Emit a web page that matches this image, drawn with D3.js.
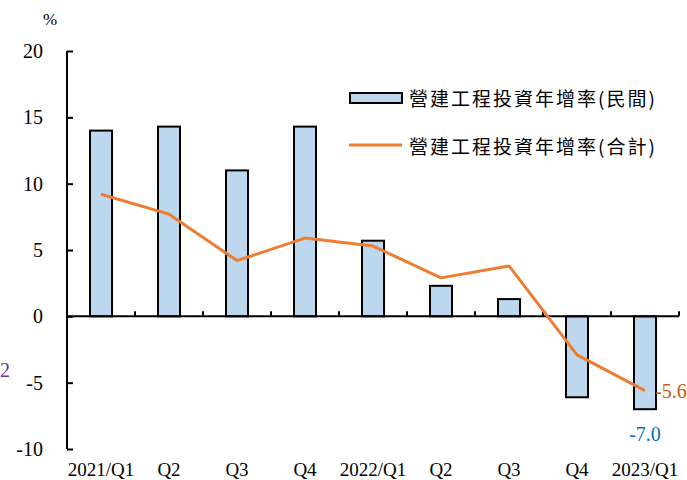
<!DOCTYPE html>
<html><head><meta charset="utf-8">
<script src="https://cdn.jsdelivr.net/npm/d3@7"></script>
<style>
body{margin:0;background:#fff;}
svg{display:block;}
</style></head>
<body>
<svg id="chart" width="687" height="480"></svg>
<script>
const categories = ["2021/Q1","Q2","Q3","Q4","2022/Q1","Q2","Q3","Q4","2023/Q1"];
const privateGrowth = [14.0, 14.3, 11.0, 14.3, 5.7, 2.3, 1.3, -6.1, -7.0];
const totalGrowth = [9.2, 7.7, 4.2, 5.9, 5.3, 2.9, 3.8, -2.9, -5.6];
const yTicks = [20, 15, 10, 5, 0, -5, -10];
const seriesNames = ["營建工程投資年增率(民間)", "營建工程投資年增率(合計)"];

const svg = d3.select("#chart");
const serif = "'Liberation Serif','Times New Roman',serif";
const cjk = "'Noto Sans CJK TC','Noto Sans CJK SC',sans-serif";

const x0 = 67, x1 = 679;
const y = d3.scaleLinear().domain([-10, 20]).range([449, 51]);
const x = d3.scaleBand().domain(d3.range(categories.length)).range([x0, x1]);
const cx = i => x(i) + x.bandwidth() / 2;
const barW = 22;

// bars
svg.append("g").selectAll("rect").data(privateGrowth).join("rect")
  .attr("x", (d, i) => cx(i) - barW / 2)
  .attr("y", d => y(Math.max(0, d)))
  .attr("width", barW)
  .attr("height", d => Math.abs(y(d) - y(0)))
  .attr("fill", "#BDD7EE")
  .attr("stroke", "#000")
  .attr("stroke-width", 2);

// y axis
const yAxis = d3.axisRight(y).tickValues(yTicks).tickSize(6).tickFormat("");
const ga = svg.append("g").attr("transform", `translate(${x0},0)`).call(yAxis);
ga.select(".domain").remove();
ga.selectAll("line").attr("stroke", "#000").attr("stroke-width", 2);
svg.append("line").attr("x1", x0).attr("x2", x0).attr("y1", y(20)).attr("y2", y(-10))
  .attr("stroke", "#000").attr("stroke-width", 2);

svg.append("g").selectAll("text").data(yTicks).join("text")
  .attr("x", 43).attr("y", d => y(d)).attr("dy", "0.35em")
  .attr("text-anchor", "end")
  .attr("font-family", serif).attr("font-size", 20).attr("fill", "#000")
  .text(d => d);

// x axis (zero line)
svg.append("line").attr("x1", x0).attr("x2", x1).attr("y1", y(0)).attr("y2", y(0))
  .attr("stroke", "#000").attr("stroke-width", 2);
const bounds = d3.range(1, categories.length + 1).map(i => x0 + i * x.step());
svg.append("g").selectAll("line").data(bounds).join("line")
  .attr("x1", d => d).attr("x2", d => d)
  .attr("y1", y(0)).attr("y2", y(0) - 5)
  .attr("stroke", "#000").attr("stroke-width", 2);

svg.append("g").selectAll("text").data(categories).join("text")
  .attr("x", (d, i) => cx(i)).attr("y", 476)
  .attr("text-anchor", "middle")
  .attr("font-family", serif).attr("font-size", 19).attr("fill", "#000")
  .text(d => d);

// line
const line = d3.line().x((d, i) => cx(i)).y(d => y(d));
svg.append("path").datum(totalGrowth)
  .attr("d", line).attr("fill", "none")
  .attr("stroke", "#ED7D31").attr("stroke-width", 3).attr("stroke-linejoin", "round");

// value labels
const last = categories.length - 1;
svg.append("text").attr("x", cx(last) + 10).attr("y", y(totalGrowth[last])).attr("dy", "0.35em")
  .attr("font-family", serif).attr("font-size", 20).attr("fill", "#C55A11")
  .text(totalGrowth[last].toFixed(1));
svg.append("text").attr("x", cx(last)).attr("y", 441).attr("text-anchor", "middle")
  .attr("font-family", serif).attr("font-size", 20).attr("fill", "#0070C0")
  .text(privateGrowth[last].toFixed(1));

// unit and stray label
svg.append("text").attr("x", 50).attr("y", 25).attr("text-anchor", "middle")
  .attr("font-family", serif).attr("font-size", 17).attr("fill", "#000").text("%");
svg.append("text").attr("x", 0).attr("y", 377)
  .attr("font-family", serif).attr("font-size", 20).attr("fill", "#7030A0").text("2");

// legend
const lg = svg.append("g");
lg.append("rect").attr("x", 350).attr("y", 93).attr("width", 52).attr("height", 10)
  .attr("fill", "#BDD7EE").attr("stroke", "#000").attr("stroke-width", 2);
lg.append("line").attr("x1", 349).attr("x2", 402).attr("y1", 145).attr("y2", 145)
  .attr("stroke", "#ED7D31").attr("stroke-width", 3);
lg.selectAll("text").data(seriesNames).join("text")
  .attr("x", 409).attr("y", (d, i) => 106 + i * 48)
  .attr("font-family", cjk).attr("font-size", 19).attr("letter-spacing", 2)
  .attr("fill", "#000").text(d => d);
</script>
</body></html>
